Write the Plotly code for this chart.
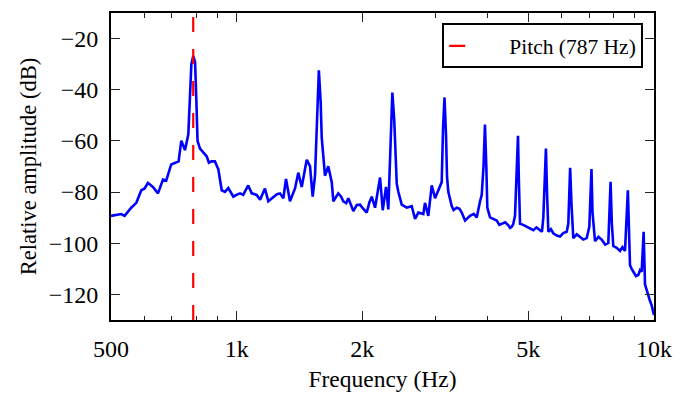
import math
import plotly.graph_objects as go

# Spectrum of the recorded note: frequency (Hz) and relative level (dB)
freq_hz = [
    500, 514, 529, 539, 559, 575, 591, 602, 613, 630,
    648, 666, 678, 697, 717, 726, 737, 752, 766, 773,
    779, 787, 795, 801, 806, 817, 830, 848, 858, 871,
    887, 904, 921, 938, 955, 982, 1002, 1019, 1037, 1066,
    1087, 1117, 1138, 1169, 1191, 1224, 1249, 1270, 1294, 1313,
    1342, 1380, 1405, 1432, 1472, 1499, 1521, 1541, 1557, 1574,
    1590, 1599, 1628, 1658, 1690, 1705, 1752, 1780, 1801, 1830,
    1852, 1904, 1940, 1975, 2010, 2050, 2080, 2107, 2146, 2206,
    2239, 2280, 2309, 2337, 2361, 2386, 2403, 2419, 2440, 2486,
    2556, 2627, 2676, 2725, 2801, 2827, 2879, 2934, 2988, 3059,
    3100, 3123, 3148, 3175, 3192, 3215, 3276, 3310, 3368, 3420,
    3462, 3526, 3580, 3624, 3700, 3761, 3830, 3866, 3904, 3935,
    3965, 3987, 4047, 4120, 4199, 4260, 4317, 4400, 4477, 4520,
    4561, 4600, 4645, 4676, 4722, 4744, 4775, 4860, 4955, 5050,
    5139, 5230, 5332, 5390, 5430, 5469, 5509, 5542, 5582, 5660,
    5738, 5850, 5954, 6060, 6178, 6233, 6296, 6344, 6407, 6530,
    6649, 6770, 6899, 6999, 7083, 7123, 7222, 7360, 7494, 7640,
    7772, 7870, 7923, 7989, 8140, 8290, 8400, 8522, 8657, 8712,
    8760, 8840, 8921, 9050, 9171, 9260, 9344, 9444, 9516, 9600,
    9691, 9780, 9871, 10000,
]
level_db = [
    -89.3, -89.0, -88.6, -89.3, -86.1, -84.2, -79.3, -78.6, -76.4, -78.0,
    -80.5, -75.1, -75.5, -69.2, -68.4, -68.0, -59.9, -63.6, -57.4, -45.0,
    -30.0, -26.8, -29.0, -45.0, -60.0, -63.0, -64.5, -66.1, -68.5, -68.0,
    -68.0, -71.1, -79.3, -79.9, -78.4, -81.8, -81.0, -80.5, -81.1, -77.4,
    -80.5, -81.1, -83.0, -78.6, -83.6, -81.8, -80.8, -80.5, -82.4, -74.9,
    -83.6, -78.6, -72.4, -78.0, -67.4, -69.9, -81.8, -73.6, -50.0, -32.4,
    -45.0, -58.6, -73.6, -69.9, -76.1, -83.6, -80.5, -81.8, -83.6, -84.3,
    -82.4, -87.4, -85.0, -84.9, -86.5, -88.0, -84.0, -81.8, -86.1, -74.3,
    -87.1, -78.0, -86.8, -60.0, -41.1, -52.0, -70.0, -76.7, -79.9, -84.9,
    -86.1, -85.5, -90.5, -88.0, -88.6, -84.2, -89.3, -77.4, -82.4, -78.6,
    -76.1, -55.0, -43.0, -58.0, -74.0, -79.9, -85.5, -87.0, -86.1, -86.5,
    -88.0, -91.1, -90.0, -89.3, -88.5, -89.9, -83.6, -81.1, -70.0, -53.6,
    -70.0, -86.1, -89.9, -90.5, -91.1, -92.8, -92.4, -91.8, -93.0, -94.0,
    -93.6, -92.5, -89.3, -75.0, -58.0, -75.0, -92.4, -92.8, -93.6, -94.2,
    -94.9, -93.8, -94.9, -95.5, -89.9, -76.0, -63.0, -80.0, -95.5, -94.5,
    -96.1, -97.0, -97.4, -96.0, -95.5, -92.4, -70.5, -85.0, -98.0, -96.5,
    -97.4, -98.5, -98.0, -93.6, -71.0, -88.0, -99.2, -97.5, -98.6, -100.5,
    -99.9, -76.0, -92.0, -101.1, -101.8, -103.0, -101.5, -103.0, -79.3, -100.0,
    -108.6, -110.0, -111.1, -112.8, -112.4, -110.5, -111.1, -95.5, -116.1, -118.5,
    -121.1, -122.5, -124.3, -128.0,
]

pitch_hz = 787
pitch_label = "Pitch (787 Hz)"

x_range = [500, 10000]
y_range = [-130, -10]
x_tick_vals = [500, 1000, 2000, 5000, 10000]
x_tick_text = ["500", "1k", "2k", "5k", "10k"]
x_minor_vals = [600, 700, 800, 900, 3000, 4000, 6000, 7000, 8000, 9000]
y_tick_vals = [-120, -100, -80, -60, -40, -20]
y_tick_text = ["\u2212120", "\u2212100", "\u221280", "\u221260", "\u221240", "\u221220"]

SERIF = "Liberation Serif, Times New Roman, serif"
RED = "#ff0000"

fig = go.Figure()

fig.add_trace(go.Scatter(
    x=freq_hz, y=level_db, mode="lines",
    line=dict(color="#0000ff", width=2.6),
    showlegend=False, hoverinfo="skip",
))

# Dashed marker for the fundamental, spanning the full y range
fig.add_trace(go.Scatter(
    x=[pitch_hz, pitch_hz], y=y_range, mode="lines",
    line=dict(color=RED, width=2.2, dash="15px,17px"),
    showlegend=False, hoverinfo="skip",
))

# Legend entry for the pitch marker (single short dash as its sample)
fig.add_trace(go.Scatter(
    x=[None], y=[None], mode="lines",
    line=dict(color=RED, width=2.2, dash="16px,400px"),
    name=pitch_label,
))

axis_common = dict(
    showline=True, linecolor="black", linewidth=2, mirror="allticks",
    ticks="inside", ticklen=9, tickwidth=1.2, tickcolor="#222",
    showgrid=False, zeroline=False,
    tickfont=dict(family=SERIF, size=24, color="black"),
)

fig.update_xaxes(
    type="log", range=[math.log10(x_range[0]), math.log10(x_range[1])],
    tickmode="array", tickvals=x_tick_vals, ticktext=x_tick_text,
    minor=dict(tickmode="array", tickvals=x_minor_vals, ticks="inside",
               ticklen=4.5, tickwidth=1, tickcolor="#222", showgrid=False),
    title=dict(text="Frequency (Hz)", font=dict(family=SERIF, size=23.5, color="black"), standoff=10),
    ticklabelstandoff=6,
    **axis_common,
)
fig.update_yaxes(
    range=y_range,
    tickmode="array", tickvals=y_tick_vals, ticktext=y_tick_text,
    title=dict(text="Relative amplitude (dB)", font=dict(family=SERIF, size=22.5, color="black"), standoff=6),
    ticklabelstandoff=6,
    **axis_common,
)

fig.update_layout(
    width=694, height=399,
    margin=dict(l=111, r=40, t=11, b=69),
    paper_bgcolor="white", plot_bgcolor="white",
    font=dict(family=SERIF, size=22, color="black"),
    showlegend=True,
    legend=dict(
        x=0.61, y=0.966, xanchor="left", yanchor="top",
        bgcolor="white", bordercolor="black", borderwidth=2,
        font=dict(family=SERIF, size=21.5, color="black"),
        itemwidth=55,
    ),
)

fig.write_html("out.html")
